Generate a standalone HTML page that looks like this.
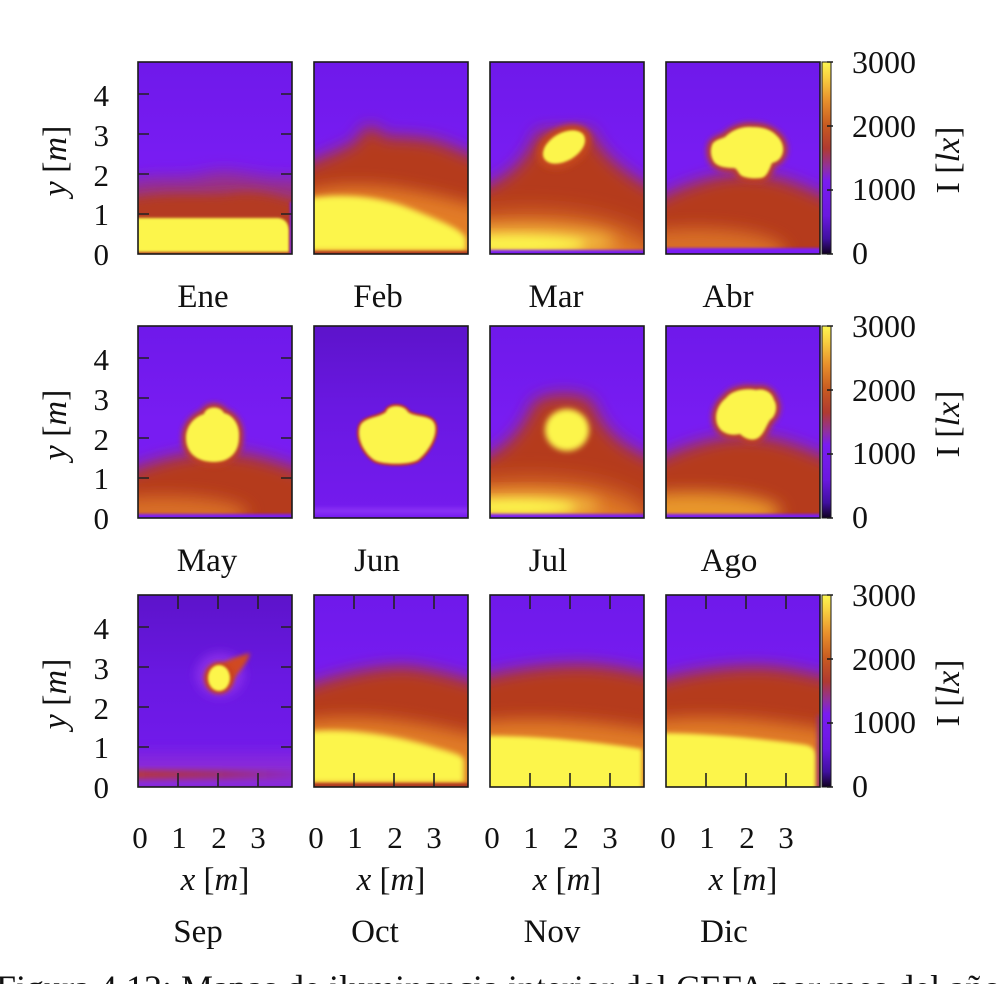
<!DOCTYPE html>
<html><head><meta charset="utf-8"><style>
html,body{margin:0;padding:0;background:#fff;}
svg{display:block;}
text{font-family:"Liberation Serif","DejaVu Serif",serif;fill:#111;}
.it{font-style:italic;}
</style></head><body>
<svg width="998" height="984" viewBox="0 0 998 984" xmlns="http://www.w3.org/2000/svg">
<defs>
<clipPath id="c"><rect x="0" y="0" width="154" height="192"/></clipPath>
<filter id="b1" x="-50%" y="-50%" width="200%" height="200%"><feGaussianBlur stdDeviation="1.2"/></filter>
<filter id="b2" x="-50%" y="-50%" width="200%" height="200%"><feGaussianBlur stdDeviation="2"/></filter>
<filter id="b3" x="-50%" y="-50%" width="200%" height="200%"><feGaussianBlur stdDeviation="3"/></filter>
<filter id="b5" x="-50%" y="-50%" width="200%" height="200%"><feGaussianBlur stdDeviation="5"/></filter>
<filter id="b8" x="-50%" y="-50%" width="200%" height="200%"><feGaussianBlur stdDeviation="8"/></filter>
<filter id="b12" x="-50%" y="-50%" width="200%" height="200%"><feGaussianBlur stdDeviation="12"/></filter>
<linearGradient id="bgv" x1="0" y1="0" x2="0" y2="1">
<stop offset="0" stop-color="#6c18e8"/><stop offset="0.5" stop-color="#781cf2"/><stop offset="1" stop-color="#7a1ef4"/>
</linearGradient>
<linearGradient id="bgd" x1="0" y1="0" x2="0" y2="1">
<stop offset="0" stop-color="#5812c2"/><stop offset="0.45" stop-color="#6a18e2"/><stop offset="1" stop-color="#781cf2"/>
</linearGradient>
<linearGradient id="sepband" x1="0" y1="0" x2="1" y2="0">
<stop offset="0" stop-color="#b83838"/><stop offset="0.5" stop-color="#a03070"/><stop offset="1" stop-color="#8a2ad0"/>
</linearGradient>
<linearGradient id="cb" x1="0" y1="0" x2="0" y2="1">
<stop offset="0" stop-color="#fcf650"/>
<stop offset="0.08" stop-color="#f8d040"/>
<stop offset="0.2" stop-color="#e8902c"/>
<stop offset="0.33" stop-color="#c85a20"/>
<stop offset="0.45" stop-color="#b03a30"/>
<stop offset="0.55" stop-color="#9030a0"/>
<stop offset="0.62" stop-color="#7a1cf0"/>
<stop offset="0.8" stop-color="#6a18e0"/>
<stop offset="0.92" stop-color="#4010a0"/>
<stop offset="1" stop-color="#100020"/>
</linearGradient>
</defs>

<!-- ============ ROW 1 ============ -->
<!-- Ene -->
<g transform="translate(138,62)"><g clip-path="url(#c)">
<rect x="-30" y="-30" width="214" height="252" fill="url(#bgv)"/>
<path d="M-30,128 C10,108 40,122 70,112 C100,106 125,120 150,116 L190,124 L190,230 L-30,230Z" fill="#9a3282" filter="url(#b8)"/>
<path d="M-30,142 C20,126 60,136 100,130 C130,128 150,138 170,142 L170,230 L-30,230Z" fill="#b43a24" filter="url(#b5)"/>
<path d="M-5,156 L140,156 Q150,157 151,168 L151,190 L-5,190Z" fill="#fcf54c" filter="url(#b1)"/>
<rect x="152" y="140" width="20" height="60" fill="#7a1ef4" filter="url(#b1)"/>
</g></g>

<!-- Feb -->
<g transform="translate(314,62)"><g clip-path="url(#c)">
<rect x="-30" y="-30" width="214" height="252" fill="url(#bgv)"/>
<path d="M-30,112 C0,98 30,88 44,78 C48,62 62,60 68,74 C82,76 110,74 130,82 C150,90 160,96 190,102 L190,230 L-30,230Z" fill="#b53a1e" filter="url(#b8)"/>
<path d="M-30,138 C20,116 80,118 190,152 L190,230 L-30,230Z" fill="#e27c26" filter="url(#b8)"/>
<path d="M-10,137 C30,130 70,135 100,148 C130,160 148,168 152,176 L152,189 L-10,189Z" fill="#fcf54c" filter="url(#b3)"/>
<rect x="-10" y="189" width="175" height="6" fill="#b03a20" filter="url(#b1)"/>
</g></g>

<!-- Mar -->
<g transform="translate(490,62)"><g clip-path="url(#c)">
<rect x="-30" y="-30" width="214" height="252" fill="url(#bgv)"/>
<path d="M-30,132 C10,124 35,104 48,70 L100,68 C110,92 140,120 190,138 L190,230 L-30,230Z" fill="#b53a1e" filter="url(#b8)"/>
<ellipse cx="40" cy="200" rx="130" ry="48" fill="#e07a28" filter="url(#b12)"/>
<ellipse cx="30" cy="180" rx="95" ry="14" fill="#f4c040" filter="url(#b8)"/>
<ellipse cx="25" cy="182" rx="70" ry="8" fill="#fcf54c" filter="url(#b5)"/>
<ellipse cx="74" cy="85" rx="29" ry="20" transform="rotate(-30 74 85)" fill="#c4461c" filter="url(#b3)"/>
<ellipse cx="74" cy="85" rx="23" ry="14" transform="rotate(-30 74 85)" fill="#fcf54c" filter="url(#b1)"/>
<rect x="-10" y="188" width="175" height="8" fill="#7a1ef4" filter="url(#b1)"/>
</g></g>

<!-- Abr -->
<g transform="translate(666,62)"><g clip-path="url(#c)">
<rect x="-30" y="-30" width="214" height="252" fill="url(#bgv)"/>
<path d="M-30,150 C10,124 50,112 80,112 C110,112 140,124 190,150 L190,230 L-30,230Z" fill="#b53a1e" filter="url(#b8)"/>
<ellipse cx="30" cy="190" rx="90" ry="24" fill="#d86e28" filter="url(#b8)"/>
<rect x="-10" y="186" width="175" height="10" fill="#7a1ef4" filter="url(#b1)"/>
<path d="M59,75 C66,68 76,64 86,65 C96,65 104,67 110,73 C116,78 119,86 116,93 C114,98 110,100 106,101 C103,108 101,115 95,116 C88,117 80,116 76,114 C72,112 72,107 68,106 C60,106 52,105 48,100 C44,94 44,86 47,81 C50,78 54,77 59,75 Z" fill="none" stroke="#c0401c" stroke-width="8" filter="url(#b3)"/>
<path d="M59,75 C66,68 76,64 86,65 C96,65 104,67 110,73 C116,78 119,86 116,93 C114,98 110,100 106,101 C103,108 101,115 95,116 C88,117 80,116 76,114 C72,112 72,107 68,106 C60,106 52,105 48,100 C44,94 44,86 47,81 C50,78 54,77 59,75 Z" fill="#fcf54c" filter="url(#b1)"/>
</g></g>

<!-- ============ ROW 2 ============ -->
<!-- May -->
<g transform="translate(138,326)"><g clip-path="url(#c)">
<rect x="-30" y="-30" width="214" height="252" fill="url(#bgv)"/>
<path d="M-30,155 C10,135 50,126 80,126 C110,126 140,135 190,155 L190,230 L-30,230Z" fill="#b53a1e" filter="url(#b8)"/>
<ellipse cx="25" cy="188" rx="85" ry="18" fill="#d86e28" filter="url(#b8)"/>
<rect x="-10" y="188" width="175" height="8" fill="#7a1ef4" filter="url(#b1)"/>
<path d="M66,88 C68,80 82,79 86,87 C95,89 102,99 101,111 C101,126 92,136 76,136 C58,136 48,126 48,112 C48,100 56,91 66,88 Z" fill="none" stroke="#c0401c" stroke-width="8" filter="url(#b3)"/>
<path d="M66,88 C68,80 82,79 86,87 C95,89 102,99 101,111 C101,126 92,136 76,136 C58,136 48,126 48,112 C48,100 56,91 66,88 Z" fill="#fcf54c" filter="url(#b1)"/>
</g></g>

<!-- Jun -->
<g transform="translate(314,326)"><g clip-path="url(#c)">
<rect x="-30" y="-30" width="214" height="252" fill="url(#bgd)"/>
<rect x="-10" y="182" width="175" height="6" fill="#8a30f4" filter="url(#b2)"/>
<path d="M72,86 C74,78 90,78 94,86 C102,92 118,88 121,99 C124,112 112,128 104,134 C96,139 68,139 60,134 C50,127 42,112 46,100 C50,91 64,92 72,86 Z" fill="none" stroke="#c02c24" stroke-width="4" filter="url(#b1)"/>
<path d="M72,86 C74,78 90,78 94,86 C102,92 118,88 121,99 C124,112 112,128 104,134 C96,139 68,139 60,134 C50,127 42,112 46,100 C50,91 64,92 72,86 Z" fill="#fcf54c" filter="url(#b1)"/>
</g></g>

<!-- Jul -->
<g transform="translate(490,326)"><g clip-path="url(#c)">
<rect x="-30" y="-30" width="214" height="252" fill="url(#bgv)"/>
<path d="M-30,140 C10,130 30,110 44,76 C60,66 90,66 102,76 C114,110 140,128 190,142 L190,230 L-30,230Z" fill="#b53a1e" filter="url(#b8)"/>
<ellipse cx="40" cy="195" rx="120" ry="40" fill="#e07a28" filter="url(#b12)"/>
<ellipse cx="30" cy="180" rx="80" ry="12" fill="#f4c040" filter="url(#b8)"/>
<ellipse cx="25" cy="181" rx="60" ry="7" fill="#fcf54c" filter="url(#b5)"/>
<rect x="-10" y="188" width="175" height="8" fill="#7a1ef4" filter="url(#b1)"/>
<ellipse cx="77" cy="104" rx="22" ry="21" fill="#fcf54c" filter="url(#b3)"/>
</g></g>

<!-- Ago -->
<g transform="translate(666,326)"><g clip-path="url(#c)">
<rect x="-30" y="-30" width="214" height="252" fill="url(#bgv)"/>
<path d="M-30,145 C10,122 50,110 80,110 C110,110 140,122 190,145 L190,230 L-30,230Z" fill="#b53a1e" filter="url(#b8)"/>
<ellipse cx="25" cy="186" rx="90" ry="20" fill="#e8962c" filter="url(#b8)"/>
<rect x="-10" y="188" width="175" height="8" fill="#7a1ef4" filter="url(#b1)"/>
<path d="M60,72 C66,64 80,62 90,64 C98,62 106,66 108,74 C112,80 110,90 104,94 C100,100 98,108 92,112 C86,116 78,112 74,108 C66,110 56,108 52,100 C48,92 50,80 60,72 Z" fill="none" stroke="#c0401c" stroke-width="8" filter="url(#b3)"/>
<path d="M60,72 C66,64 80,62 90,64 C98,62 106,66 108,74 C112,80 110,90 104,94 C100,100 98,108 92,112 C86,116 78,112 74,108 C66,110 56,108 52,100 C48,92 50,80 60,72 Z" fill="#fcf54c" filter="url(#b1)"/>
</g></g>

<!-- ============ ROW 3 ============ -->
<!-- Sep -->
<g transform="translate(138,595)"><g clip-path="url(#c)">
<rect x="-30" y="-30" width="214" height="252" fill="url(#bgd)"/>
<rect x="-20" y="160" width="190" height="40" fill="#8a2ad8" filter="url(#b8)"/>
<rect x="-10" y="175" width="175" height="9" fill="url(#sepband)" filter="url(#b3)"/>
<ellipse cx="82" cy="80" rx="24" ry="22" fill="#8a2ee8" filter="url(#b5)"/>
<path d="M72,80 C80,68 96,62 112,58 C110,68 100,78 92,88 Z" fill="#d04a20" filter="url(#b2)"/>
<ellipse cx="81" cy="83" rx="15" ry="16" fill="#c8401c" filter="url(#b2)"/>
<ellipse cx="81" cy="83" rx="11" ry="13" fill="#fcf54c" filter="url(#b1)"/>
</g></g>

<!-- Oct -->
<g transform="translate(314,595)"><g clip-path="url(#c)">
<rect x="-30" y="-30" width="214" height="252" fill="url(#bgv)"/>
<path d="M-30,100 C20,80 60,72 90,72 C120,74 150,84 190,96 L190,230 L-30,230Z" fill="#b53a1e" filter="url(#b8)"/>
<path d="M-30,130 C20,118 80,118 190,148 L190,230 L-30,230Z" fill="#e07a28" filter="url(#b8)"/>
<path d="M-10,137 C30,132 80,140 120,152 C140,158 150,160 150,166 L150,188 L-10,188Z" fill="#fcf54c" filter="url(#b3)"/>
<rect x="-10" y="188" width="175" height="6" fill="#b03a20" filter="url(#b1)"/>
</g></g>

<!-- Nov -->
<g transform="translate(490,595)"><g clip-path="url(#c)">
<rect x="-30" y="-30" width="214" height="252" fill="url(#bgv)"/>
<path d="M-30,88 C20,74 60,70 90,70 C120,70 150,78 190,86 L190,230 L-30,230Z" fill="#b53a1e" filter="url(#b8)"/>
<path d="M-30,130 C30,120 100,124 190,140 L190,230 L-30,230Z" fill="#e07a28" filter="url(#b8)"/>
<path d="M-10,141 C40,140 100,146 152,154 L152,196 L-10,196Z" fill="#fcf54c" filter="url(#b2)"/>
</g></g>

<!-- Dic -->
<g transform="translate(666,595)"><g clip-path="url(#c)">
<rect x="-30" y="-30" width="214" height="252" fill="url(#bgv)"/>
<path d="M-30,92 C20,76 60,72 90,72 C120,72 150,80 190,90 L190,230 L-30,230Z" fill="#b53a1e" filter="url(#b8)"/>
<path d="M-30,128 C30,118 100,122 190,140 L190,230 L-30,230Z" fill="#e07a28" filter="url(#b8)"/>
<path d="M-10,138 C40,138 100,144 140,150 Q150,152 150,162 L150,196 L-10,196Z" fill="#fcf54c" filter="url(#b2)"/>
<rect x="151" y="120" width="20" height="80" fill="#9a3070" filter="url(#b2)"/>
</g></g>

<!-- ============ Panel borders & ticks ============ -->
<g fill="none" stroke="#1a1a1a" stroke-width="1.6">
<rect x="138" y="62" width="154" height="192"/><rect x="314" y="62" width="154" height="192"/>
<rect x="490" y="62" width="154" height="192"/><rect x="666" y="62" width="154" height="192"/>
<rect x="138" y="326" width="154" height="192"/><rect x="314" y="326" width="154" height="192"/>
<rect x="490" y="326" width="154" height="192"/><rect x="666" y="326" width="154" height="192"/>
<rect x="138" y="595" width="154" height="192"/><rect x="314" y="595" width="154" height="192"/>
<rect x="490" y="595" width="154" height="192"/><rect x="666" y="595" width="154" height="192"/>
</g>
<g stroke="#222" stroke-width="1.6">
<path d="M138,214h11M138,174h11M138,134h11M138,94h11M292,214h-11M292,174h-11M292,134h-11M292,94h-11"/>
<path d="M138,478h11M138,438h11M138,398h11M138,358h11M292,478h-11M292,438h-11M292,398h-11M292,358h-11"/>
<path d="M138,747h11M138,707h11M138,667h11M138,627h11M292,747h-11M292,707h-11M292,667h-11M292,627h-11"/>
<path d="M178,595v14M218,595v14M258,595v14M178,787v-14M218,787v-14M258,787v-14"/>
<path d="M354,595v14M394,595v14M434,595v14M354,787v-14M394,787v-14M434,787v-14"/>
<path d="M530,595v14M570,595v14M610,595v14M530,787v-14M570,787v-14M610,787v-14"/>
<path d="M706,595v14M746,595v14M786,595v14M706,787v-14M746,787v-14M786,787v-14"/>
</g>

<!-- ============ Colorbars ============ -->
<g>
<rect x="822" y="62" width="9" height="192" fill="url(#cb)" stroke="#1a1a1a" stroke-width="1"/>
<rect x="822" y="326" width="9" height="192" fill="url(#cb)" stroke="#1a1a1a" stroke-width="1"/>
<rect x="822" y="595" width="9" height="192" fill="url(#cb)" stroke="#1a1a1a" stroke-width="1"/>
<g stroke="#1a1a1a" stroke-width="1.4">
<path d="M827,126h6M827,190h6M827,62h6M827,254h6"/>
<path d="M827,390h6M827,454h6M827,326h6M827,518h6"/>
<path d="M827,659h6M827,723h6M827,595h6M827,787h6"/>
</g>
</g>

<!-- ============ Text ============ -->
<g font-size="31" text-anchor="end">
<text x="109" y="106">4</text><text x="109" y="146">3</text><text x="109" y="186">2</text><text x="109" y="225">1</text><text x="109" y="265">0</text>
<text x="109" y="370">4</text><text x="109" y="410">3</text><text x="109" y="450">2</text><text x="109" y="489">1</text><text x="109" y="529">0</text>
<text x="109" y="639">4</text><text x="109" y="679">3</text><text x="109" y="719">2</text><text x="109" y="758">1</text><text x="109" y="798">0</text>
</g>
<g font-size="34" text-anchor="middle">
<text transform="translate(66,161) rotate(-90)"><tspan class="it">y</tspan> [<tspan class="it">m</tspan>]</text>
<text transform="translate(66,425) rotate(-90)"><tspan class="it">y</tspan> [<tspan class="it">m</tspan>]</text>
<text transform="translate(66,694) rotate(-90)"><tspan class="it">y</tspan> [<tspan class="it">m</tspan>]</text>
</g>
<g font-size="32">
<text x="852" y="73">3000</text><text x="852" y="137">2000</text><text x="852" y="200">1000</text><text x="852" y="264">0</text>
<text x="852" y="337">3000</text><text x="852" y="401">2000</text><text x="852" y="464">1000</text><text x="852" y="528">0</text>
<text x="852" y="606">3000</text><text x="852" y="670">2000</text><text x="852" y="733">1000</text><text x="852" y="797">0</text>
</g>
<g font-size="34" text-anchor="middle">
<text transform="translate(959,160) rotate(-90)">I [<tspan class="it">lx</tspan>]</text>
<text transform="translate(959,424) rotate(-90)">I [<tspan class="it">lx</tspan>]</text>
<text transform="translate(959,693) rotate(-90)">I [<tspan class="it">lx</tspan>]</text>
</g>
<g font-size="33" text-anchor="middle">
<text x="203" y="307">Ene</text><text x="378" y="307">Feb</text><text x="556" y="307">Mar</text><text x="728" y="307">Abr</text>
<text x="207" y="571">May</text><text x="377" y="571">Jun</text><text x="548" y="571">Jul</text><text x="729" y="571">Ago</text>
<text x="198" y="942">Sep</text><text x="375" y="942">Oct</text><text x="552" y="942">Nov</text><text x="724" y="942">Dic</text>
</g>
<g font-size="31" text-anchor="middle">
<text x="140" y="848">0</text><text x="179" y="848">1</text><text x="219" y="848">2</text><text x="258" y="848">3</text>
<text x="316" y="848">0</text><text x="355" y="848">1</text><text x="395" y="848">2</text><text x="434" y="848">3</text>
<text x="492" y="848">0</text><text x="531" y="848">1</text><text x="571" y="848">2</text><text x="610" y="848">3</text>
<text x="668" y="848">0</text><text x="707" y="848">1</text><text x="747" y="848">2</text><text x="786" y="848">3</text>
</g>
<g font-size="33" text-anchor="middle">
<text x="215" y="890"><tspan class="it">x</tspan> [<tspan class="it">m</tspan>]</text>
<text x="391" y="890"><tspan class="it">x</tspan> [<tspan class="it">m</tspan>]</text>
<text x="567" y="890"><tspan class="it">x</tspan> [<tspan class="it">m</tspan>]</text>
<text x="743" y="890"><tspan class="it">x</tspan> [<tspan class="it">m</tspan>]</text>
</g>
<text x="-4" y="1000" font-size="36">Figura 4.12:  Mapas de iluminancia interior del CEFA por mes del año (</text>
</svg>
</body></html>
